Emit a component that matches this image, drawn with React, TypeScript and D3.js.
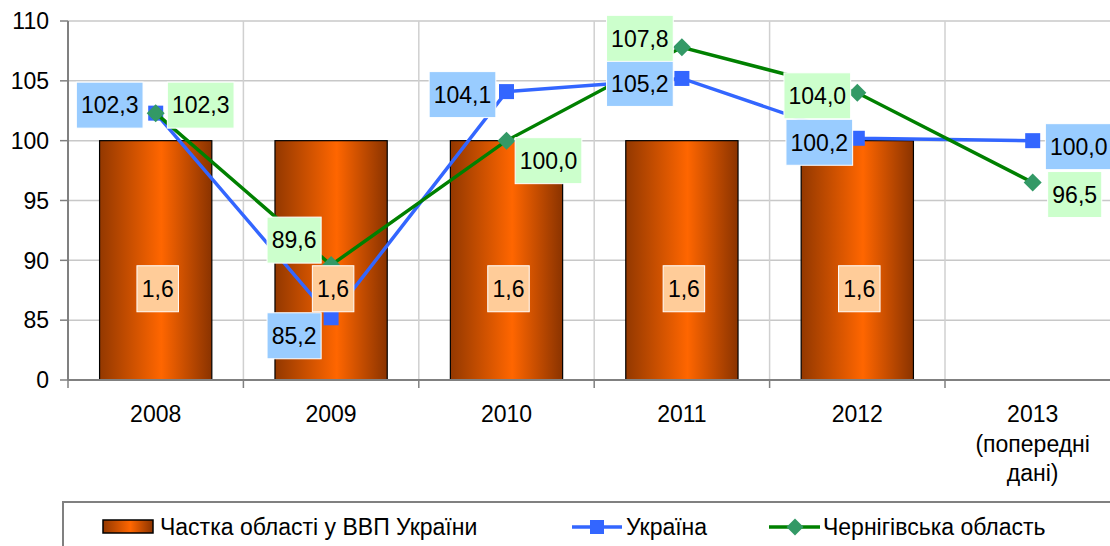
import * as d3 from 'd3';

const years = ['2008', '2009', '2010', '2011', '2012', '2013'];
const yearLabels = [['2008'], ['2009'], ['2010'], ['2011'], ['2012'], ['2013', '(попередні', 'дані)']];
const shareValues: (number | null)[] = [1.6, 1.6, 1.6, 1.6, 1.6, null];
const ukraine = [102.3, 85.2, 104.1, 105.2, 100.2, 100.0];
const chernihiv = [102.3, 89.6, 100.0, 107.8, 104.0, 96.5];
const yTicks = [80, 85, 90, 95, 100, 105, 110];
const yTickLabels = ['0', '85', '90', '95', '100', '105', '110'];
const seriesNames = ['Частка області у ВВП України', 'Україна', 'Чернігівська область'];

// label box offsets from marker centre
const ukrOffsets = [[-46, -8], [-37, 18], [-44, 3], [-42, 5], [-38, 4], [46, 6]];
const chOffsets = [[45, -8], [-37, -25], [42, 20], [-42, -9], [-40, 3], [42, 12]];

const W = 1110;
const H = 546;
const left = 68;
const top = 21;
const bottom = 380;
const step = 175.4;
const font = '"Liberation Sans", Arial, sans-serif';
const blue = '#3366ff';
const green = '#008000';
const diamondFill = '#339966';

const fmt = (v: number) => v.toFixed(1).replace('.', ',');

function labelBox(text: string, cx: number, cy: number, fill: string, key: string) {
  const digits = text.replace(',', '').length;
  const w = digits * 12.6 + (text.includes(',') ? 6.3 : 0) + 10;
  const h = 46;
  return (
    <g key={key}>
      <rect x={cx - w / 2} y={cy - h / 2} width={w} height={h} fill={fill} stroke="#fff" strokeWidth={1} />
      <text x={cx} y={cy} dy="0.36em" textAnchor="middle" fontSize={23} fill="#000">{text}</text>
    </g>
  );
}

export default function App() {
  const x = d3.scaleBand<string>().domain(years).range([left, left + step * years.length]);
  const y = d3.scaleLinear().domain([80, 110]).range([bottom, top]);
  const yShare = d3.scaleLinear().domain([0, 2.4]).range([bottom, top]);
  const bw = x.bandwidth();
  const barW = bw * 0.64;
  const cx = (i: number) => (x(years[i]) as number) + bw / 2;

  const line = d3.line<number>().x((_, i) => cx(i)).y(d => y(d));

  const square = (px: number, py: number, s: number, k: string) => (
    <rect key={k} x={px - s / 2} y={py - s / 2} width={s} height={s} fill={blue} />
  );
  const diamond = (px: number, py: number, s: number, k: string) => (
    <path key={k} d={`M${px},${py - s / 2}L${px + s / 2},${py}L${px},${py + s / 2}L${px - s / 2},${py}Z`} fill={diamondFill} />
  );

  return (
    <svg width={W} height={H} style={{ position: 'absolute', left: 0, top: 0, background: '#fff' }} fontFamily={font}>
      <defs>
        <linearGradient id="barGrad" x1="0" x2="1" y1="0" y2="0">
          <stop offset="0" stopColor="#933800" />
          <stop offset="0.55" stopColor="#ff6600" />
          <stop offset="1" stopColor="#8a3300" />
        </linearGradient>
      </defs>

      {/* grid */}
      {yTicks.slice(1).map(t => (
        <line key={'g' + t} x1={left} x2={W} y1={y(t)} y2={y(t)} stroke="#c8c8c8" strokeWidth={1.5} />
      ))}
      {years.slice(1).map(c => (
        <line key={'v' + c} x1={x(c)} x2={x(c)} y1={top} y2={bottom} stroke="#d0d0d0" strokeWidth={1.5} />
      ))}

      {/* bars */}
      {shareValues.map((v, i) =>
        v == null ? null : (
          <rect key={'b' + i} x={cx(i) - barW / 2} y={yShare(v)} width={barW} height={bottom - yShare(v)}
            fill="url(#barGrad)" stroke="#000" strokeWidth={1.2} />
        )
      )}

      {/* axes */}
      <line x1={left} x2={left} y1={top} y2={bottom} stroke="#808080" strokeWidth={2} />
      <line x1={left} x2={W} y1={bottom} y2={bottom} stroke="#808080" strokeWidth={2} />
      {yTicks.map((t, i) => (
        <g key={'yt' + t}>
          <line x1={left - 8} x2={left} y1={y(t)} y2={y(t)} stroke="#808080" strokeWidth={1.5} />
          <text x={49} y={y(t)} dy="0.36em" textAnchor="end" fontSize={23} fill="#000">{yTickLabels[i]}</text>
        </g>
      ))}
      {years.map(c => (
        <line key={'xt' + c} x1={(x(c) as number)} x2={(x(c) as number)} y1={bottom} y2={bottom + 8} stroke="#808080" strokeWidth={1.5} />
      ))}
      {yearLabels.map((lines, i) => (
        <text key={'xl' + i} x={cx(i)} y={422} textAnchor="middle" fontSize={23} fill="#000">
          {lines.map((l, j) => (
            <tspan key={j} x={cx(i)} dy={j === 0 ? 0 : 29.5}>{l}</tspan>
          ))}
        </text>
      ))}

      {/* lines */}
      <path d={line(ukraine) || undefined} fill="none" stroke={blue} strokeWidth={3.5} />
      {ukraine.map((v, i) => square(cx(i), y(v), 15, 'us' + i))}
      <path d={line(chernihiv) || undefined} fill="none" stroke={green} strokeWidth={3.5} />
      {chernihiv.map((v, i) => diamond(cx(i), y(v), 18, 'cd' + i))}

      {/* labels */}
      {ukraine.map((v, i) => labelBox(fmt(v), cx(i) + ukrOffsets[i][0], y(v) + ukrOffsets[i][1], '#99ccff', 'ul' + i))}
      {chernihiv.map((v, i) => labelBox(fmt(v), cx(i) + chOffsets[i][0], y(v) + chOffsets[i][1], '#ccffcc', 'cl' + i))}
      {shareValues.map((v, i) =>
        v == null ? null : labelBox(fmt(v), cx(i) + 2, yShare(0.61), '#ffcc99', 'bl' + i)
      )}

      {/* legend */}
      <rect x={63} y={502} width={W} height={100} fill="none" stroke="#808080" strokeWidth={2} />
      <rect x={103} y={520} width={50} height={13} fill="url(#barGrad)" stroke="#000" strokeWidth={1.5} />
      <text x={160} y={527} dy="0.36em" fontSize={23} fill="#000">{seriesNames[0]}</text>
      <line x1={572} x2={622} y1={527} y2={527} stroke={blue} strokeWidth={3.5} />
      {square(597, 527, 14, 'lgs')}
      <text x={626} y={527} dy="0.36em" fontSize={23} fill="#000">{seriesNames[1]}</text>
      <line x1={769} x2={820} y1={527} y2={527} stroke={green} strokeWidth={3.5} />
      {diamond(795, 527, 17, 'lgd')}
      <text x={823} y={527} dy="0.36em" fontSize={23} fill="#000">{seriesNames[2]}</text>
    </svg>
  );
}
